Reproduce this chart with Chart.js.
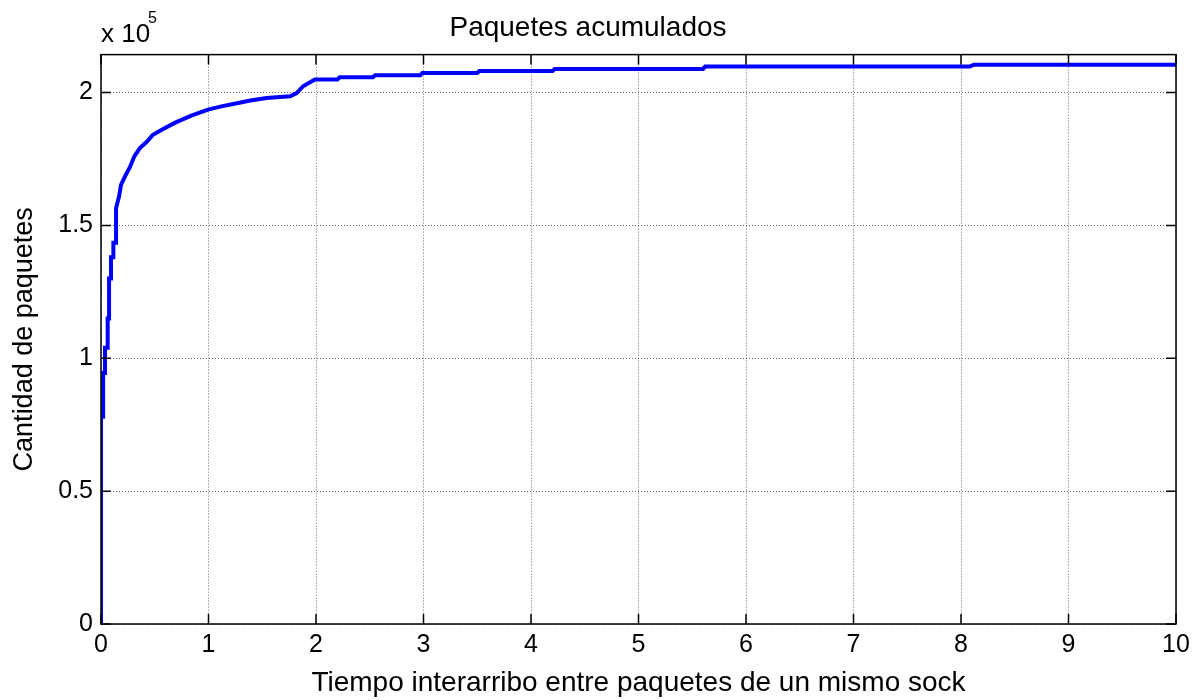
<!DOCTYPE html>
<html>
<head>
<meta charset="utf-8">
<script src="https://cdn.jsdelivr.net/npm/chart.js@4/dist/chart.umd.min.js"></script>
<style>
  body { margin: 0; background: #fff; }
  #wrap { width: 1203px; height: 700px; }
</style>
</head>
<body>
<div id="wrap"><canvas id="chart"></canvas></div>
<script>
// Tiempo interarribo (x) vs paquetes acumulados (y)
const tiempo = [0, 0, 0.02, 0.02, 0.037, 0.037, 0.062, 0.062, 0.075, 0.075, 0.093, 0.093,
  0.115, 0.115, 0.14, 0.14, 0.167, 0.186, 0.23, 0.27, 0.31, 0.36, 0.425, 0.48, 0.565,
  0.69, 0.84, 0.995, 1.12, 1.23, 1.39, 1.54, 1.76, 1.82, 1.88, 1.99, 2.2, 2.22, 2.53,
  2.55, 2.97, 2.99, 3.5, 3.52, 4.2, 4.22, 5.6, 5.62, 8.08, 8.12, 10];
const paquetes = [0, 78000, 78000, 94500, 94500, 104000, 104000, 115000, 115000, 130000,
  130000, 138000, 138000, 143500, 143500, 156500, 160800, 165300, 169000, 172000, 176000,
  179000, 181500, 184000, 186000, 188700, 191300, 193600, 194800, 195700, 197000, 198000,
  198600, 199800, 202400, 204900, 204900, 205800, 205800, 206500, 206500, 207400, 207400,
  208100, 208100, 208900, 208900, 209800, 209800, 210500, 210500];

const xTicks = [0, 1, 2, 3, 4, 5, 6, 7, 8, 9, 10];
const yTicks = [0, 50000, 100000, 150000, 200000];

const FONT = "'Liberation Sans', Arial, sans-serif";

// box around the plot, ticks pointing inward, and the "x 10^5" note
const matlabBox = {
  id: "matlabBox",
  afterDraw(chart) {
    const ctx = chart.ctx;
    const a = chart.chartArea;
    const xs = chart.scales.x;
    const ys = chart.scales.y;
    ctx.save();
    ctx.strokeStyle = "#000";
    ctx.lineWidth = 1.5;
    ctx.setLineDash([]);
    ctx.beginPath();
    xTicks.forEach((t) => {
      const px = xs.getPixelForValue(t);
      ctx.moveTo(px, a.bottom); ctx.lineTo(px, a.bottom - 10);
      ctx.moveTo(px, a.top); ctx.lineTo(px, a.top + 10);
    });
    yTicks.forEach((t) => {
      const py = ys.getPixelForValue(t);
      ctx.moveTo(a.left, py); ctx.lineTo(a.left + 10, py);
      ctx.moveTo(a.right, py); ctx.lineTo(a.right - 10, py);
    });
    ctx.stroke();
    ctx.strokeRect(a.left, a.top, a.right - a.left, a.bottom - a.top);

    ctx.fillStyle = "#000";
    ctx.textBaseline = "alphabetic";
    ctx.textAlign = "left";
    ctx.font = "26px " + FONT;
    ctx.fillText("x 10", a.left, 42);
    ctx.font = "16px " + FONT;
    ctx.fillText("5", a.left + 47, 23);
    ctx.restore();
  },
};

new Chart(document.getElementById("chart"), {
  type: "scatter",
  data: {
    datasets: [{
      data: tiempo.map((t, i) => ({ x: t, y: paquetes[i] })),
      showLine: true,
      borderColor: "#0000ff",
      borderWidth: 4,
      pointRadius: 0,
      tension: 0,
    }],
  },
  plugins: [matlabBox],
  options: {
    responsive: true,
    maintainAspectRatio: false,
    animation: false,
    layout: { padding: { left: 0, right: 27, top: 0, bottom: 0 } },
    plugins: {
      legend: { display: false },
      tooltip: { enabled: false },
      title: {
        display: true,
        text: "Paquetes acumulados",
        color: "#000",
        font: { family: FONT, size: 28, weight: "normal" },
        padding: { top: 11, bottom: 10 },
      },
    },
    scales: {
      x: {
        type: "linear",
        min: 0,
        max: 10,
        afterFit: (s) => { s.height = 76; },
        afterBuildTicks: (s) => { s.ticks = xTicks.map((v) => ({ value: v })); },
        ticks: {
          color: "#000",
          font: { family: FONT, size: 25 },
          padding: 6,
          maxRotation: 0,
          autoSkip: false,
        },
        grid: { color: "rgba(0,0,0,0.6)", lineWidth: 1, drawTicks: false },
        border: { display: false, dash: [1, 2] },
        title: {
          display: true,
          text: "Tiempo interarribo entre paquetes de un mismo sock",
          color: "#000",
          font: { family: FONT, size: 28 },
          padding: { top: 0, bottom: 0 },
        },
      },
      y: {
        type: "linear",
        min: 0,
        max: 214300,
        afterFit: (s) => { s.width = 101; },
        afterBuildTicks: (s) => { s.ticks = yTicks.map((v) => ({ value: v })); },
        ticks: {
          color: "#000",
          font: { family: FONT, size: 25 },
          padding: 8,
          autoSkip: false,
          callback: (v) => (v / 100000).toString(),
        },
        grid: { color: "rgba(0,0,0,0.6)", lineWidth: 1, drawTicks: false },
        border: { display: false, dash: [1, 2] },
        title: {
          display: true,
          text: "Cantidad de paquetes",
          color: "#000",
          font: { family: FONT, size: 27 },
          padding: { top: 8, bottom: 0 },
        },
      },
    },
  },
});
</script>
</body>
</html>
